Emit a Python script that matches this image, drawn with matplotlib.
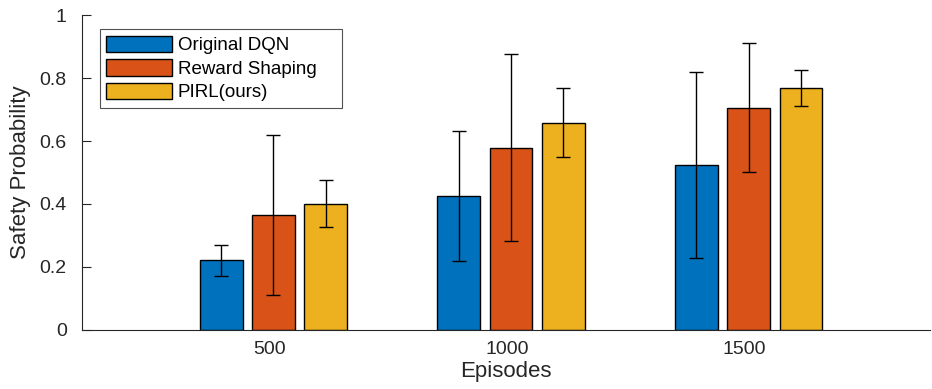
import numpy as np
import matplotlib.pyplot as plt
import matplotlib.transforms as mtransforms

plt.rcParams['font.family'] = ['Liberation Sans', 'DejaVu Sans']

episodes = [500, 1000, 1500]
labels = ['Original DQN', 'Reward Shaping', 'PIRL(ours)']
colors = ['#0072BD', '#D95319', '#EDB120']

means = [
    [0.221, 0.426, 0.524],
    [0.365, 0.579, 0.706],
    [0.401, 0.658, 0.769],
]
errs = [
    [0.050, 0.206, 0.295],
    [0.254, 0.296, 0.204],
    [0.074, 0.109, 0.057],
]

fig = plt.figure(figsize=(9.32, 3.89), dpi=100)
ax = fig.add_axes([0.088, 0.1517, 0.91, 0.8097])

x = np.array(episodes, dtype=float)
w = 90
offs = [-110, 0, 110]
for i in range(3):
    ax.bar(x + offs[i], means[i], width=w, color=colors[i], edgecolor='black',
           linewidth=1, label=labels[i], zorder=2)
    ax.errorbar(x + offs[i], means[i], yerr=errs[i], fmt='none', ecolor='black',
                elinewidth=1, capsize=5, capthick=1, zorder=3)

ax.set_xlim(97, 1882)
ax.set_ylim(0, 1)
ax.set_xticks(episodes)
ax.set_xticklabels([str(e) for e in episodes])
ax.set_yticks([0, 0.2, 0.4, 0.6, 0.8, 1])
ax.set_yticklabels(['0', '0.2', '0.4', '0.6', '0.8', '1'])
ax.tick_params(axis='y', direction='in', length=6.5, labelsize=14, colors='#262626', pad=11)
ax.tick_params(axis='x', length=0, labelsize=14, colors='#262626', pad=8)
# labels sit a few px left of the bar group centres in the original
shift = mtransforms.ScaledTranslation(-3 / 72, 0, fig.dpi_scale_trans)
for lab in ax.get_xticklabels():
    lab.set_transform(lab.get_transform() + shift)
for s in ['top', 'right']:
    ax.spines[s].set_visible(False)
for s in ['left', 'bottom']:
    ax.spines[s].set_color('#262626')
    ax.spines[s].set_linewidth(0.8)

ax.set_xlabel('Episodes', fontsize=16, color='#262626', labelpad=2)
ax.set_ylabel('Safety Probability', fontsize=16, color='#262626', labelpad=6)

leg = ax.legend(loc='upper left', bbox_to_anchor=(0.021, 0.5, 0.285, 0.455), mode='expand',
                fontsize=13.5, frameon=True, fancybox=False, handlelength=3.5,
                handleheight=0.95, labelspacing=0.27, handletextpad=0.3,
                borderpad=0.35, borderaxespad=0)
leg.get_frame().set_edgecolor('#262626')
leg.get_frame().set_linewidth(0.8)

fig.savefig('out.png', dpi=100)
